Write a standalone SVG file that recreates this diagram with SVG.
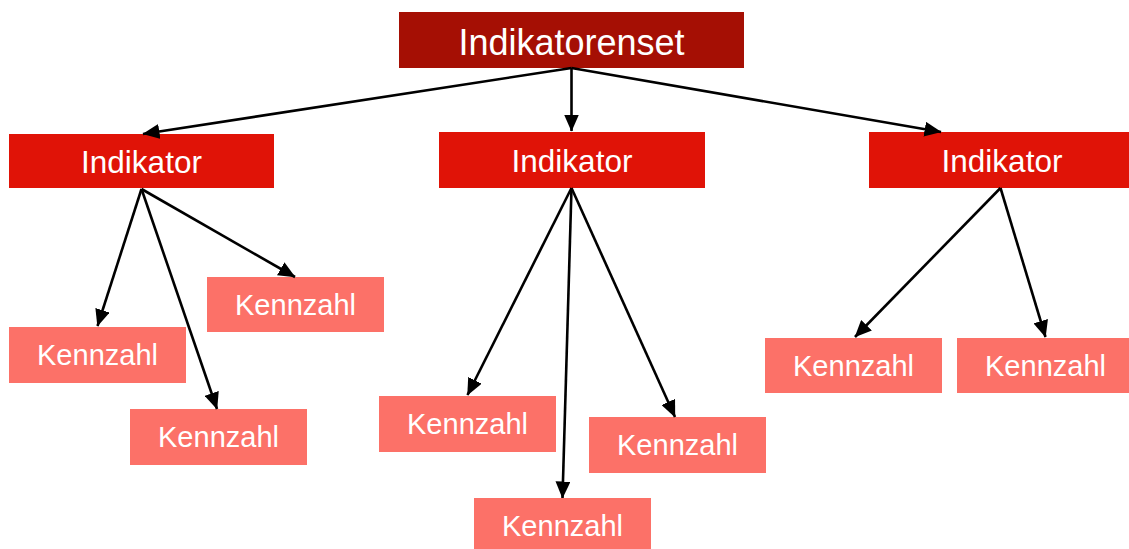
<svg xmlns="http://www.w3.org/2000/svg" width="1129" height="549" viewBox="0 0 1129 549">
<style>
.top{fill:#A50F04}
.ind{fill:#E01307}
.kz{fill:#FC7168}
text{font-family:"Liberation Sans",Arial,sans-serif;fill:#FFFFFF;text-anchor:middle}
.t1{font-size:36px}
.t2{font-size:31.5px}
.t3{font-size:29px}
.con line{stroke:#000;stroke-width:2.6;fill:none;marker-end:url(#ah)}
</style>
<defs>
<marker id="ah" markerUnits="userSpaceOnUse" viewBox="0 0 17 15" markerWidth="17" markerHeight="15" refX="16.5" refY="7.5" orient="auto">
<path d="M0,0 L17,7.5 L0,15 z" fill="#000"/>
</marker>
</defs>
<rect width="1129" height="549" fill="#FFFFFF"/>
<g id="n-root"><rect class="top" x="399" y="12" width="345" height="56"/><text class="t1" x="571.5" y="55">Indikatorenset</text></g>
<g id="n-ind1"><rect class="ind" x="9" y="134" width="265" height="54"/><text class="t2" x="141.5" y="173">Indikator</text></g>
<g id="n-ind2"><rect class="ind" x="439" y="132" width="266" height="56"/><text class="t2" x="572" y="172">Indikator</text></g>
<g id="n-ind3"><rect class="ind" x="869" y="132" width="266" height="56"/><text class="t2" x="1002" y="172">Indikator</text></g>
<g id="n-k1"><rect class="kz" x="9" y="327" width="177" height="56"/><text class="t3" x="97.5" y="365">Kennzahl</text></g>
<g id="n-k2"><rect class="kz" x="130" y="409" width="177" height="56"/><text class="t3" x="218.5" y="447">Kennzahl</text></g>
<g id="n-k3"><rect class="kz" x="207" y="277" width="177" height="55"/><text class="t3" x="295.5" y="315">Kennzahl</text></g>
<g id="n-k4"><rect class="kz" x="379" y="396" width="177" height="56"/><text class="t3" x="467.5" y="434">Kennzahl</text></g>
<g id="n-k5"><rect class="kz" x="474" y="498" width="177" height="56"/><text class="t3" x="562.5" y="536">Kennzahl</text></g>
<g id="n-k6"><rect class="kz" x="589" y="417" width="177" height="56"/><text class="t3" x="677.5" y="455">Kennzahl</text></g>
<g id="n-k7"><rect class="kz" x="765" y="338" width="177" height="55"/><text class="t3" x="853.5" y="376">Kennzahl</text></g>
<g id="n-k8"><rect class="kz" x="957" y="338" width="177" height="55"/><text class="t3" x="1045.5" y="376">Kennzahl</text></g>
<g id="connectors" class="con">
<line x1="571.5" y1="68" x2="143" y2="134"/>
<line x1="571.5" y1="68" x2="571.5" y2="131"/>
<line x1="571.5" y1="68" x2="941" y2="132"/>
<line x1="141.5" y1="189" x2="97.5" y2="326"/>
<line x1="141.5" y1="189" x2="217" y2="409"/>
<line x1="141.5" y1="189" x2="295" y2="277"/>
<line x1="571.5" y1="188" x2="467.5" y2="395"/>
<line x1="571.5" y1="188" x2="562.5" y2="498"/>
<line x1="571.5" y1="188" x2="675" y2="417"/>
<line x1="1000.5" y1="188" x2="855" y2="337"/>
<line x1="1000.5" y1="188" x2="1045.5" y2="337"/>
</g>
</svg>
